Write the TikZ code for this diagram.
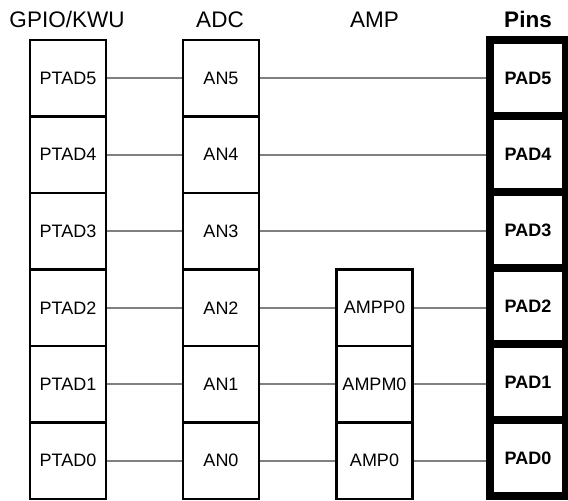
\documentclass[tikz,border=0pt]{standalone}
\usepackage{fontspec}
\setmainfont{Liberation Sans}
\usetikzlibrary{backgrounds}
\begin{document}
\begin{tikzpicture}[x=1pt,y=-1pt,
 cell/.style={draw=black,line width=2.8pt,fill=white,minimum width=76pt,minimum height=76.5pt,inner sep=0pt,outer sep=0pt,font=\fontsize{18}{20}\selectfont},
 pin/.style={draw=black,line width=8pt,fill=white,minimum width=76pt,minimum height=76pt,inner sep=0pt,outer sep=0pt,font=\fontsize{18}{20}\selectfont\bfseries},
 head/.style={anchor=base,inner sep=0pt,font=\fontsize{22.5}{24}\selectfont},
 wire/.style={draw=gray,line width=1.7pt}]
\useasboundingbox (0,0) rectangle (568,501);
% headers
\node[head] (hg) at (67,27) {GPIO/KWU};
\node[head] (ha) at (220,27) {ADC};
\node[head] (hm) at (374.5,27) {AMP};
\node[head,font=\fontsize{22.5}{24}\selectfont\bfseries] (hp) at (528,27) {Pins};
% cells
\foreach \n [count=\k from 0] in {5,4,3,2,1,0} {
  \node[cell] (g\n) at (68,{78.25+76.5*\k}) {PTAD\n};
  \node[cell] (a\n) at (221,{78.25+76.5*\k}) {AN\n};
  \node[pin] (p\n) at (528,{78+76*\k}) {PAD\n};
}
\node[cell] (m2) at (374.5,{78.25+76.5*3}) {AMPP0};
\node[cell] (m1) at (374.5,{78.25+76.5*4}) {AMPM0};
\node[cell] (m0) at (374.5,{78.25+76.5*5}) {AMP0};
% connectors
\begin{scope}[on background layer]
\foreach \n in {5,4,3,2,1,0} {
  \draw[wire] (g\n.east) -- (a\n.west);
}
\foreach \n in {5,4,3} {
  \draw[wire] (a\n.east) -- (a\n.east -| p\n.west);
}
\foreach \n in {2,1,0} {
  \draw[wire] (a\n.east) -- (m\n.west);
  \draw[wire] (m\n.east) -- (m\n.east -| p\n.west);
}
\end{scope}
\end{tikzpicture}
\end{document}
